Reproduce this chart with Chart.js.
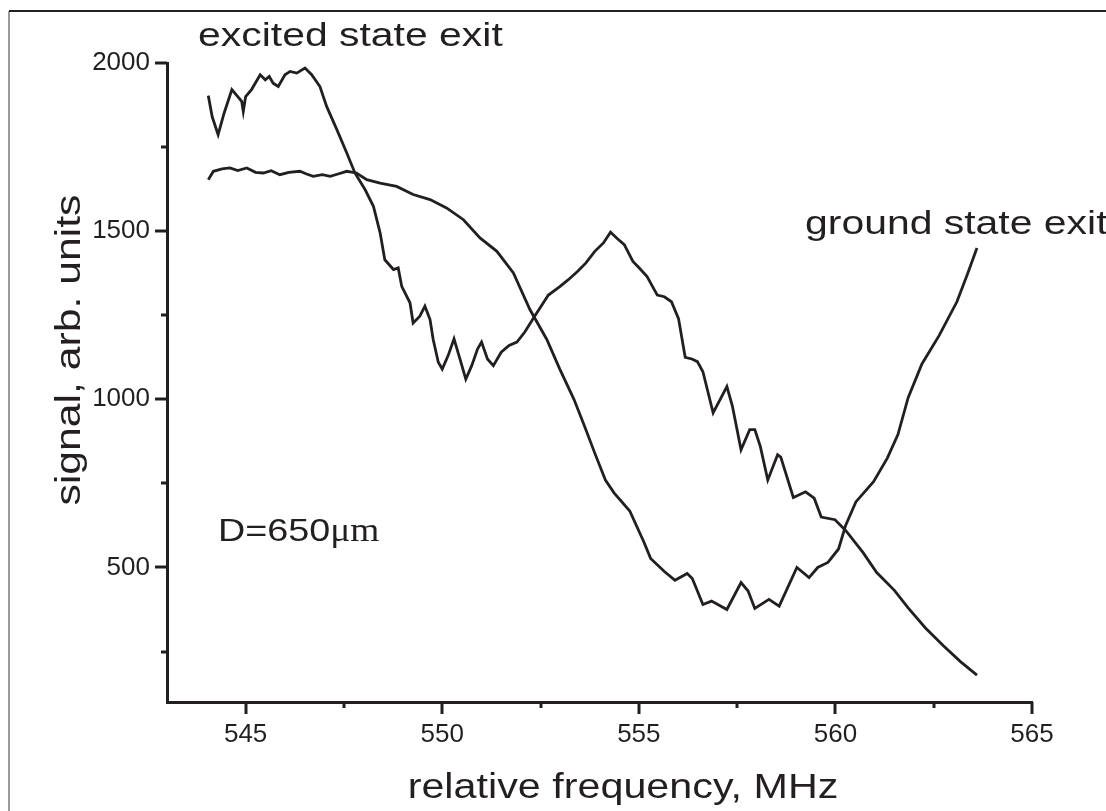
<!DOCTYPE html>
<html>
<head>
<meta charset="utf-8">
<script src="https://cdn.jsdelivr.net/npm/chart.js@4.4.1/dist/chart.umd.min.js"></script>
<style>
    html, body { margin: 0; padding: 0; background: #fff; }
    #wrap { width: 1106px; height: 811px; position: relative; }
</style>
</head>
<body>
<div id="wrap"><canvas id="chart" width="1106" height="811"></canvas></div>
<script>
// traces: frequency (MHz) and signal (arb. units)
const excitedFreq = [
    544.05, 544.15, 544.3, 544.45, 544.65, 544.8, 544.9, 544.94, 545.0, 545.15,
    545.37, 545.5, 545.6, 545.7, 545.83, 546.0, 546.13, 546.3, 546.51, 546.68,
    546.89, 547.06, 547.32, 547.57, 547.78, 548.04, 548.25, 548.42, 548.54, 548.76,
    548.88, 548.97, 549.18, 549.26, 549.43, 549.56, 549.69, 549.77, 549.9, 550.0,
    550.15, 550.3, 550.45, 550.6, 550.75, 550.9, 551.0, 551.15, 551.3, 551.5,
    551.7, 551.9, 552.1, 552.35, 552.7, 552.99, 553.2, 553.44, 553.65, 553.88,
    554.1, 554.28, 554.45, 554.63, 554.85, 555.0, 555.21, 555.47, 555.65, 555.83,
    556.01, 556.18, 556.35, 556.49, 556.63, 556.89, 557.07, 557.24, 557.38, 557.6,
    557.82, 557.95, 558.09, 558.28, 558.53, 558.61, 558.93, 559.24, 559.46, 559.64,
    559.99, 560.26, 560.7, 561.05, 561.5, 561.85, 562.29, 562.74, 563.18, 563.6
];
const excitedSignal = [
    1903, 1840, 1787, 1850, 1921, 1900, 1886, 1856, 1900, 1921,
    1965, 1950, 1960, 1940, 1930, 1965, 1975, 1970, 1985, 1965,
    1930, 1871, 1802, 1733, 1673, 1623, 1574, 1495, 1415, 1386,
    1391, 1336, 1287, 1227, 1247, 1277, 1237, 1178, 1110, 1090,
    1130, 1180, 1120, 1060, 1100, 1150, 1170, 1120, 1100, 1140,
    1160, 1170, 1200, 1247, 1310, 1335, 1355, 1380, 1405, 1440,
    1465, 1497, 1478, 1460, 1410, 1392, 1365, 1310, 1305, 1290,
    1240, 1125, 1120, 1112, 1082, 960, 1000, 1038, 980, 850,
    910, 910, 860, 760, 835, 828, 708, 725, 706, 650,
    642, 610, 545, 485, 432, 380, 320, 268, 220, 180
];
const groundFreq = [
    544.05, 544.18, 544.4, 544.6, 544.8, 545.03, 545.25, 545.45, 545.65, 545.87,
    546.1, 546.38, 546.55, 546.72, 546.95, 547.15, 547.35, 547.57, 547.82, 548.08,
    548.42, 548.84, 549.26, 549.69, 550.11, 550.54, 550.96, 551.39, 551.81, 552.23,
    552.66, 552.99, 553.35, 553.62, 553.88, 554.15, 554.37, 554.77, 555.12, 555.3,
    555.65, 555.92, 556.23, 556.36, 556.63, 556.85, 557.24, 557.6, 557.78, 557.95,
    558.31, 558.57, 559.02, 559.33, 559.55, 559.81, 560.08, 560.26, 560.52, 560.97,
    561.32, 561.59, 561.85, 562.2, 562.64, 563.09, 563.35, 563.6
];
const groundSignal = [
    1653, 1678, 1685, 1688, 1680, 1688, 1675, 1673, 1680, 1668,
    1675, 1678, 1670, 1663, 1668, 1663, 1670, 1678, 1673, 1653,
    1643, 1633, 1609, 1594, 1569, 1534, 1480, 1440, 1376, 1267,
    1178, 1090, 1000, 920, 840, 760, 722, 668, 578, 527,
    488, 462, 482, 467, 390, 400, 375, 455, 430, 378,
    405, 385, 500, 470, 500, 515, 555, 625, 695, 755,
    825, 895, 1005, 1105, 1190, 1290, 1370, 1450
];
const xTicks = [545, 547.5, 550, 552.5, 555, 557.5, 560, 562.5, 565];
const yTicks = [250, 500, 750, 1000, 1250, 1500, 1750, 2000];

const INK = "#231f20";
const SANS = "'Liberation Sans', Arial, sans-serif";
const SERIF = "'Liberation Serif', 'Times New Roman', serif";

function toPoints(xs, ys) {
    return xs.map((v, i) => ({ x: v, y: ys[i] }));
}

function stroke(ctx, x1, y1, x2, y2) {
    ctx.beginPath();
    ctx.moveTo(x1, y1);
    ctx.lineTo(x2, y2);
    ctx.stroke();
}

// text in the figure is drawn a bit wider than the font, so stretch it
function wideText(ctx, str, x, y, font, sx, angle) {
    ctx.save();
    ctx.translate(x, y);
    if (angle) ctx.rotate(angle);
    ctx.scale(sx, 1);
    ctx.font = font;
    ctx.fillText(str, 0, 0);
    const w = ctx.measureText(str).width * sx;
    ctx.restore();
    return w;
}

const decor = {
    id: "decor",
    afterDraw(chart) {
        const { ctx, chartArea: area } = chart;
        const xs = chart.scales.x, ys = chart.scales.y;
        ctx.save();
        ctx.strokeStyle = INK;
        ctx.lineWidth = 3;
        xTicks.forEach(v => {
            const px = Math.round(xs.getPixelForValue(v));
            stroke(ctx, px, area.bottom, px, area.bottom + (v % 5 === 0 ? 12 : 6));
        });
        yTicks.forEach(v => {
            const py = Math.round(ys.getPixelForValue(v));
            stroke(ctx, area.left, py, area.left - (v % 500 === 0 ? 12 : 6), py);
        });

        // outer frame (only top and left edges show)
        ctx.lineWidth = 2;
        ctx.strokeStyle = "#9a9a9a";
        stroke(ctx, 9, 11, 9, 811);
        ctx.strokeStyle = "#222";
        stroke(ctx, 9, 11, 1106, 11);

        ctx.fillStyle = INK;
        ctx.textBaseline = "alphabetic";
        ctx.textAlign = "left";
        wideText(ctx, "excited state exit", 198, 46, "33px " + SANS, 1.24);
        wideText(ctx, "ground state exit", 805, 234, "33px " + SANS, 1.24);
        const w = wideText(ctx, "D=650", 218, 541, "32px " + SANS, 1.18);
        wideText(ctx, "\u03bcm", 218 + w, 541, "34px " + SERIF, 1.1);

        // axis titles
        ctx.textAlign = "center";
        wideText(ctx, "relative frequency, MHz", 623, 798, "35px " + SANS, 1.18);
        wideText(ctx, "signal, arb. units", 80, 350, "35px " + SANS, 1.22, -Math.PI / 2);

        ctx.restore();
    }
};

const lineStyle = {
    borderColor: INK,
    borderWidth: 2.8,
    pointRadius: 0,
    tension: 0,
    fill: false
};

new Chart(document.getElementById("chart").getContext("2d"), {
    type: "line",
    data: {
        datasets: [
            { label: "excited state exit", data: toPoints(excitedFreq, excitedSignal), ...lineStyle },
            { label: "ground state exit", data: toPoints(groundFreq, groundSignal), ...lineStyle }
        ]
    },
    options: {
        responsive: false,
        animation: false,
        events: [],
        layout: { padding: { top: 63, right: 74, left: 0, bottom: 0 } },
        plugins: {
            legend: { display: false },
            tooltip: { enabled: false }
        },
        scales: {
            x: {
                type: "linear",
                min: 543,
                max: 565,
                afterBuildTicks: s => { s.ticks = xTicks.map(v => ({ value: v })); },
                afterFit: s => { s.height = 109; },
                grid: { display: false, drawTicks: false },
                border: { display: true, color: INK, width: 3 },
                ticks: {
                    padding: 17,
                    color: INK,
                    font: { family: SANS, size: 26 },
                    maxRotation: 0,
                    autoSkip: false,
                    callback: v => (v % 5 === 0 ? String(v) : "")
                }
            },
            y: {
                type: "linear",
                min: 100,
                max: 2000,
                afterBuildTicks: s => { s.ticks = yTicks.map(v => ({ value: v })); },
                afterFit: s => { s.width = 167; },
                grid: { display: false, drawTicks: false },
                border: { display: true, color: INK, width: 3 },
                ticks: {
                    padding: 17,
                    color: INK,
                    font: { family: SANS, size: 26 },
                    autoSkip: false,
                    callback: v => (v % 500 === 0 ? String(v) : "")
                }
            }
        }
    },
    plugins: [decor]
});
</script>
</body>
</html>
